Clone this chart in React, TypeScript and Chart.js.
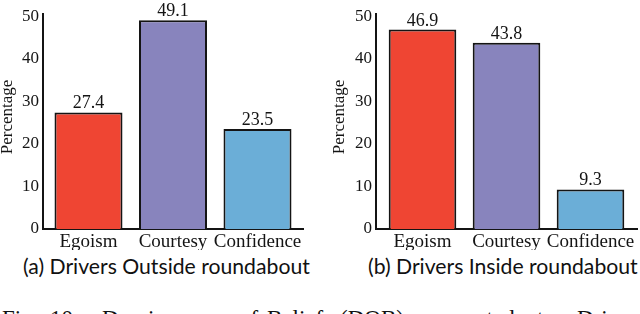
import React, { useEffect, useRef } from "react";
import { Chart, registerables } from "chart.js";

Chart.register(...registerables);

const categories = ["Egoism", "Courtesy", "Confidence"];
const outsideValues = [27.4, 49.1, 23.5];
const insideValues = [46.9, 43.8, 9.3];
const yTicks = [0, 10, 20, 30, 40, 50];
const yMax = 50.5;
const barColors = ["#EF4533", "#8884BD", "#6BAED7"];
const yAxisTitle = "Percentage";
const captionA = "(a) Drivers Outside roundabout";
const captionB = "(b) Drivers Inside roundabout";
const figWords = ["Fig.", "10:", "Dominance", "of", "Belief", "(DOB)", "computed", "to", "Drivers"];
const figWordX = [2, 50, 102, 239, 267, 340, 424, 537, 577];

const SERIF = "'Liberation Serif', 'Times New Roman', serif";
const INK = "#141414";

const labelPlugin = {
  id: "valueLabels",
  afterDatasetsDraw(chart: any, _args: any, opts: any) {
    const ctx = chart.ctx;
    const meta = chart.getDatasetMeta(0);
    const data = chart.data.datasets[0].data as { x: number; y: number }[];
    ctx.save();
    ctx.font = `18px ${SERIF}`;
    ctx.fillStyle = INK;
    ctx.textAlign = "center";
    ctx.textBaseline = "alphabetic";
    meta.data.forEach((bar: any, i: number) => {
      ctx.fillText(data[i].y.toFixed(1), bar.x, bar.y - 4);
    });
    ctx.translate(opts.titleX, opts.titleY);
    ctx.rotate(-Math.PI / 2);
    ctx.font = `17px ${SERIF}`;
    ctx.textBaseline = "middle";
    ctx.fillText(yAxisTitle, 0, 0);
    ctx.restore();
  },
};

function BarPanel(props: {
  values: number[];
  yAxisWidth: number;
  rightPad: number;
  titleX: number;
  left: number;
  xPad: number;
}) {
  const ref = useRef<HTMLCanvasElement>(null);
  useEffect(() => {
    const chart = new Chart(ref.current as HTMLCanvasElement, {
      type: "bar",
      data: {
        datasets: [
          {
            data: props.values.map((v, i) => ({ x: i, y: v })),
            backgroundColor: barColors,
            borderColor: INK,
            borderWidth: 2,
            barPercentage: 0.805,
            categoryPercentage: 1,
          },
        ],
      },
      options: {
        responsive: false,
        animation: false,
        devicePixelRatio: 1,
        layout: { padding: { top: 13, right: props.rightPad, bottom: 0, left: 0 } },
        plugins: {
          legend: { display: false },
          tooltip: { enabled: false },
          valueLabels: { titleX: props.titleX, titleY: 117 },
        } as any,
        scales: {
          x: {
            type: "linear",
            min: -props.xPad,
            max: categories.length - 1 + props.xPad,
            offset: false,
            grid: { display: false, drawTicks: false },
            border: { color: INK, width: 2 },
            ticks: {
              font: { family: SERIF, size: 19 },
              color: INK,
              padding: 2,
              maxRotation: 0,
              autoSkip: false,
              callback: (v: any) => categories[Math.round(Number(v))] ?? "",
            },
            afterBuildTicks: (s: any) => {
              s.ticks = categories.map((_, i) => ({ value: i }));
            },
            afterFit: (s: any) => {
              s.height = 21;
            },
          },
          y: {
            min: 0,
            max: yMax,
            grid: { display: false, drawTicks: false },
            border: { color: INK, width: 2 },
            ticks: { font: { family: SERIF, size: 17 }, color: INK, padding: 4 },
            afterBuildTicks: (s: any) => {
              s.ticks = yTicks.map((v) => ({ value: v }));
            },
            afterFit: (s: any) => {
              s.width = props.yAxisWidth;
            },
          },
        },
      } as any,
      plugins: [labelPlugin],
    });
    return () => chart.destroy();
  }, []);
  return (
    <canvas
      ref={ref}
      width={320}
      height={250}
      style={{ position: "absolute", left: props.left, top: 0, width: 320, height: 250 }}
    />
  );
}

const captionStyle: React.CSSProperties = {
  position: "absolute",
  top: 254,
  fontFamily: "Lato, 'Noto Sans', sans-serif",
  fontSize: 21.2,
  lineHeight: "24px",
  whiteSpace: "nowrap",
  color: "#111",
};

export default function App() {
  return (
    <div
      style={{
        position: "fixed",
        left: 0,
        top: 0,
        width: 640,
        height: 314,
        overflow: "hidden",
        background: "#fff",
      }}
    >
      <BarPanel values={outsideValues} yAxisWidth={43} rightPad={17} titleX={8} left={0} xPad={0.5385} />
      <BarPanel values={insideValues} yAxisWidth={56} rightPad={3} titleX={20} left={320} xPad={0.5536} />
      <div style={{ ...captionStyle, left: 23 }}>{captionA}</div>
      <div style={{ ...captionStyle, left: 368 }}>{captionB}</div>
      {figWords.map((w, i) => (
        <span
          key={i}
          style={{
            position: "absolute",
            left: figWordX[i],
            top: 305.5,
            fontFamily: SERIF,
            fontSize: 23,
            lineHeight: "26px",
            whiteSpace: "nowrap",
            color: "#111",
          }}
        >
          {w}
        </span>
      ))}
    </div>
  );
}
